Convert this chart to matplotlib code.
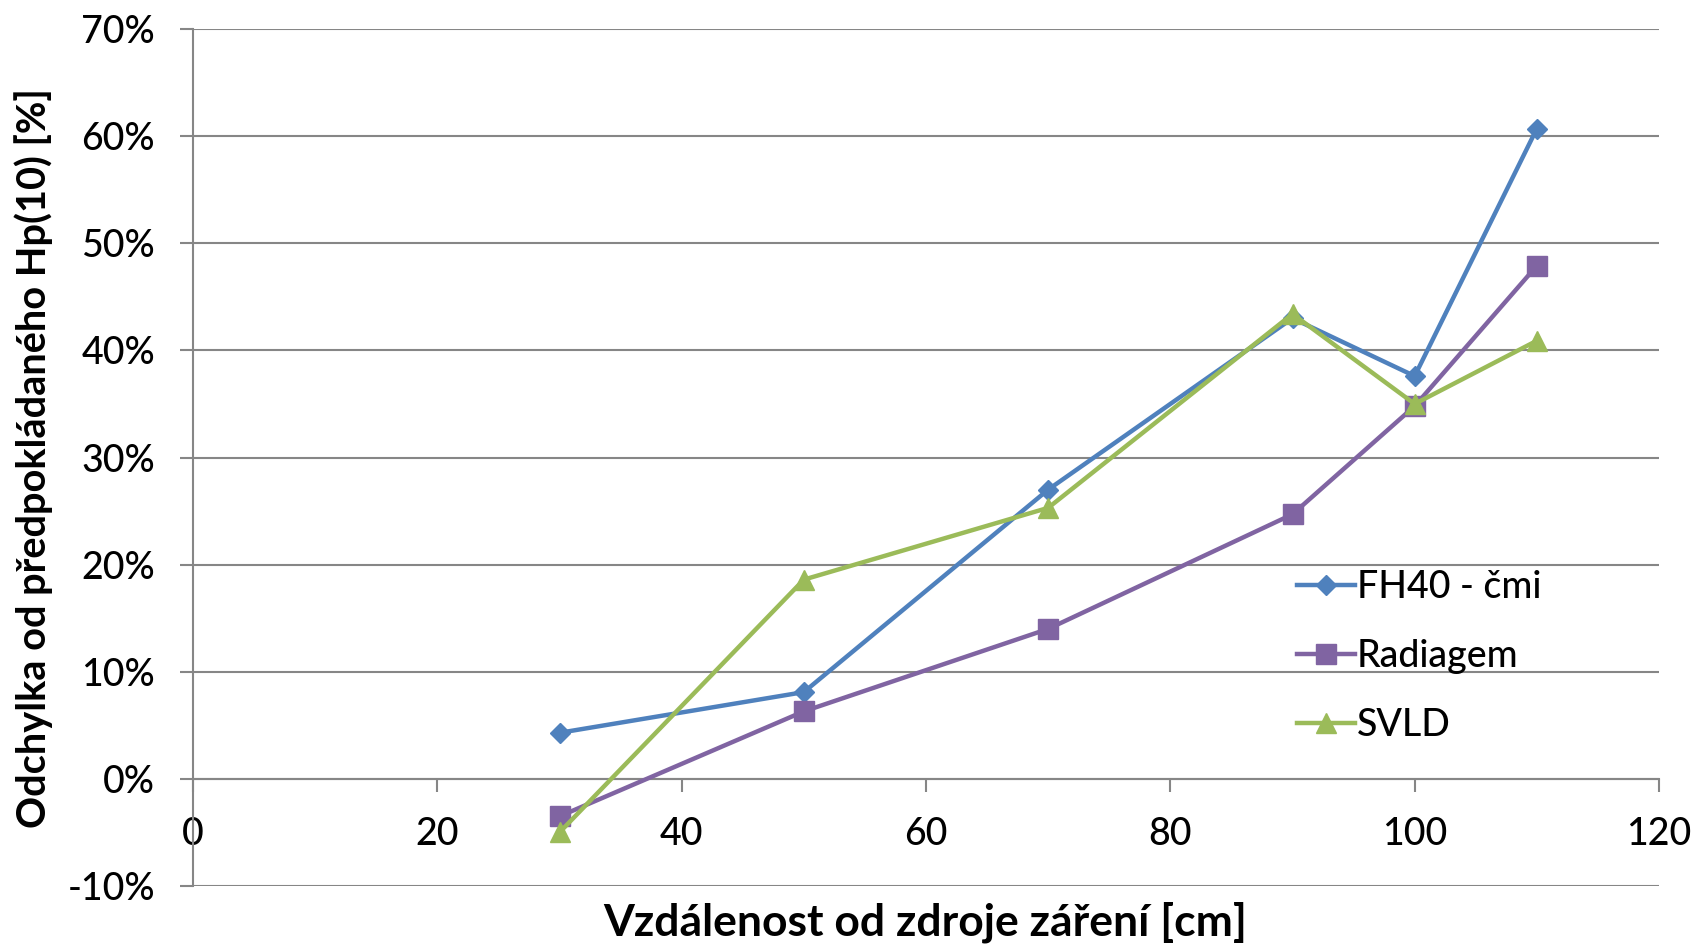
import matplotlib
matplotlib.use("Agg")
import matplotlib.pyplot as plt
from matplotlib.ticker import FuncFormatter

plt.rcParams['font.family'] = ['Lato', 'DejaVu Sans']

# Data (deviation in %)
distance_cm = [30, 50, 70, 90, 100, 110]
fh40_cmi = [4.3, 8.1, 27.0, 43.0, 37.6, 60.7]
radiagem = [-3.5, 6.3, 14.0, 24.7, 34.8, 47.9]
svld = [-5.0, 18.6, 25.3, 43.4, 35.0, 40.9]

series_names = ["FH40 - čmi", "Radiagem", "SVLD"]
x_ticks = [0, 20, 40, 60, 80, 100, 120]
y_ticks = [-10, 0, 10, 20, 30, 40, 50, 60, 70]

xlabel = "Vzdálenost od zdroje záření [cm]"
ylabel = "Odchylka od předpokládaného Hp(10) [%]"

W, H = 1696, 944
fig = plt.figure(figsize=(W / 100, H / 100), dpi=100)
ax = fig.add_axes([193 / W, 1 - 886 / H, (1659 - 193) / W, (886 - 29) / H])

grid_col = "#868686"
fs = 27

ax.plot(distance_cm, fh40_cmi, color="#4F81BD", lw=3.2, marker="D", ms=10.2,
        label=series_names[0], zorder=3, solid_joinstyle='round')
ax.plot(distance_cm, radiagem, color="#8064A2", lw=3.2, marker="s", ms=14.2,
        label=series_names[1], zorder=3, solid_joinstyle='round')
ax.plot(distance_cm, svld, color="#9BBB59", lw=3.2, marker="^", ms=14.6,
        label=series_names[2], zorder=3, solid_joinstyle='round')

ax.set_xlim(0, 120)
ax.set_ylim(-10, 70)
ax.set_xticks(x_ticks)
ax.set_yticks(y_ticks)
ax.yaxis.set_major_formatter(FuncFormatter(lambda v, p: f"{v:.0f}%"))
ax.xaxis.set_major_formatter(FuncFormatter(lambda v, p: f"{v:.0f}"))

ax.grid(axis='y', color=grid_col, lw=1.5, zorder=0)
ax.set_axisbelow(True)

for s in ['top', 'right']:
    ax.spines[s].set_visible(False)
ax.spines['bottom'].set_position(('data', 0))
ax.spines['bottom'].set_color(grid_col)
ax.spines['bottom'].set_linewidth(1.5)
ax.spines['left'].set_color(grid_col)
ax.spines['left'].set_linewidth(1.5)

ax.tick_params(axis='both', which='major', direction='out', length=9.4, width=1.5,
               color=grid_col, labelsize=fs, pad=18)
for lab in ax.get_xticklabels() + ax.get_yticklabels():
    lab.set_fontweight('medium')

fig.text(925 / W, 1 - 922 / H, xlabel, ha='center', va='center', fontsize=32,
         fontweight='bold')
fig.text(34 / W, 1 - 458.5 / H, ylabel, ha='center', va='center', rotation=90,
         fontsize=28.6, fontweight='bold')

leg = ax.legend(loc='center left', bbox_to_anchor=(1297 / W, 1 - 656.5 / H),
                bbox_transform=fig.transFigure, frameon=False,
                prop={'size': fs, 'weight': 'medium'},
                borderaxespad=0, borderpad=0, handlelength=1.55, handletextpad=0.05,
                labelspacing=0.9, numpoints=1)

fig.savefig("out.png", dpi=100)
